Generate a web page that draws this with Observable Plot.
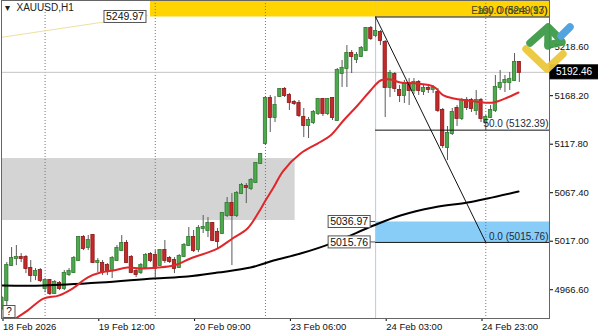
<!DOCTYPE html>
<html><head><meta charset="utf-8">
<script src="https://cdn.jsdelivr.net/npm/d3@7"></script>
<script src="https://cdn.jsdelivr.net/npm/@observablehq/plot@0.6"></script>
<style>
html,body{margin:0;padding:0;background:#fff;overflow:hidden}
#chart{position:relative;width:598px;height:336px}
#logo{position:absolute;left:0;top:0;pointer-events:none}
</style></head><body><div id="chart"></div>
<script>
// ---- data (XAUUSD, H1 candles, bar index 0..108) ----
const open = [4947.0,4955.3,4991.7,4999.0,5000.0,5000.0,4988.6,4981.3,4986.5,4967.8,4976.1,4962.6,4973.0,4967.8,4982.4,4984.4,4996.9,5020.8,5010.4,5022.9,
4994.8,4993.8,4991.7,4986.5,4996.9,5007.3,5014.6,5000.0,4985.5,4984.4,4989.6,5003.1,5002.1,4991.7,5007.3,4999.0,4996.9,4989.6,5001.1,5012.5,
5020.8,5008.3,5030.2,5028.1,5035.4,5026.0,5025.0,5043.7,5056.1,5043.7,5066.5,5073.8,5071.7,5078.0,5097.7,5118.5,5165.3,5145.5,5167.3,5174.6,
5168.4,5161.1,5160.1,5145.5,5137.2,5140.3,5149.7,5164.2,5149.7,5165.3,5142.4,5191.2,5196.4,5212.0,5205.8,5208.9,5215.1,5238.0,5230.7,5233.8,
5223.5,5176.7,5190.2,5173.6,5168.4,5180.8,5173.6,5181.9,5172.5,5175.6,5174.6,5171.5,5152.8,5114.3,5128.9,5154.9,5144.5,5163.2,5163.2,5152.8,
5163.2,5140.3,5145.5,5152.8,5176.7,5181.9,5181.9,5184.0,5202.7];
const high = [4959.5,4994.8,5010.4,5012.5,5004.2,5002.1,4996.9,4988.6,4988.6,4978.2,4977.2,4976.1,4975.1,4986.5,4988.6,5001.1,5021.9,5022.9,5022.9,5023.9,
4999.0,4996.9,4993.8,5001.1,5012.5,5022.9,5017.7,5002.1,4988.6,4993.8,5004.2,5005.2,5007.3,5008.3,5017.7,5001.1,5000.0,5003.1,5014.6,5031.2,
5028.1,5033.3,5043.7,5041.6,5036.4,5030.2,5046.8,5062.4,5066.5,5068.6,5076.9,5076.9,5082.1,5098.7,5108.1,5167.3,5168.4,5167.3,5175.6,5176.7,
5170.5,5163.2,5163.2,5154.9,5145.5,5152.8,5165.3,5165.3,5165.3,5166.3,5196.4,5204.8,5220.3,5215.1,5213.1,5219.3,5239.0,5240.1,5249.97,5235.9,
5225.5,5194.4,5192.3,5178.8,5184.0,5186.0,5186.0,5184.0,5178.8,5178.8,5178.8,5175.6,5154.9,5136.2,5154.9,5158.0,5165.3,5166.3,5165.3,5173.6,
5165.3,5147.6,5158.0,5189.2,5194.4,5189.2,5192.3,5212.0,5203.7];
const low = [4944.9,4944.9,4990.7,4991.7,4994.8,4983.4,4974.0,4976.1,4974.0,4963.6,4960.5,4961.6,4965.7,4965.7,4980.3,4983.4,4995.9,5007.3,5007.3,4993.8,
4984.4,4981.3,4981.3,4978.2,4995.9,5006.3,4993.8,4983.4,4979.2,4982.4,4988.6,4994.8,4979.2,4990.7,4993.8,4993.8,4983.4,4988.6,5000.0,5011.5,
5005.2,5005.2,5025.0,5020.8,5016.7,5009.4,5023.9,5041.6,4991.7,5041.6,5065.5,5056.1,5069.7,5076.9,5096.7,5116.4,5129.9,5140.3,5166.3,5166.3,
5152.8,5158.0,5145.5,5124.7,5123.7,5138.2,5147.6,5146.6,5147.6,5142.4,5141.4,5176.7,5176.7,5191.2,5201.6,5207.9,5214.1,5225.5,5228.6,5220.3,
5145.5,5166.3,5171.5,5161.1,5160.1,5158.0,5169.4,5168.4,5168.4,5170.5,5170.5,5150.7,5113.3,5100.8,5126.8,5136.2,5142.4,5152.8,5150.7,5147.6,
5140.3,5132.4,5144.5,5150.7,5173.6,5171.5,5173.6,5182.9,5181.9];
const close = [4957.4,4991.7,4999.0,5000.0,4999.0,4988.6,4981.3,4985.5,4976.1,4976.1,4962.6,4974.0,4967.8,4983.4,4985.5,4999.0,5020.8,5009.4,5017.7,4994.8,
4995.9,4984.4,4985.5,4999.0,5009.4,5014.6,4994.8,4984.4,4982.4,4991.7,5002.1,4996.9,4988.6,5007.3,4996.9,4995.9,4988.6,5001.1,5012.5,5020.8,
5007.3,5030.2,5031.2,5035.4,5017.7,5016.7,5045.8,5056.1,5043.7,5066.5,5074.9,5072.8,5080.0,5097.7,5107.1,5165.3,5145.5,5158.0,5174.6,5168.4,
5161.1,5160.1,5147.6,5137.2,5142.4,5150.7,5164.2,5149.7,5164.2,5145.5,5194.4,5196.4,5212.0,5208.9,5210.0,5217.2,5238.0,5227.6,5234.9,5225.5,
5176.7,5191.2,5175.6,5168.4,5180.8,5173.6,5181.9,5173.6,5175.6,5174.6,5175.6,5152.8,5116.4,5128.9,5150.7,5144.5,5163.2,5155.9,5154.9,5163.2,
5144.5,5145.5,5152.8,5176.7,5180.8,5184.0,5185.0,5202.7,5192.46];

// moving averages (bar position, value)
const maRedBar = [2.82,5.32,8.66,11.8,14.72,17.85,20.56,23.28,26.2,28.91,32.46,35.8,39.35,44.99,48.12,51.25,53.55,55.01,56.68,58.77,62.32,65.87,68.58,71.29,74.22,76.93,79.02,81.11,83.19,86.74,90.08,92.17,94.26,97.18,100.52,102.61,105.53,107.83];
const maRedVal = [4936.6,4944.9,4957.4,4960.5,4967.8,4979.2,4984.4,4986.5,4989.6,4988.6,4989.6,4991.7,4999.0,5009.4,5019.8,5030.2,5046.8,5059.3,5072.8,5090.4,5108.1,5118.5,5126.8,5142.4,5158.0,5173.6,5184.0,5185.0,5181.9,5180.8,5177.7,5168.4,5165.3,5163.2,5161.1,5161.1,5166.3,5171.5];
const maBlackBar = [0.1,8.66,20.56,31.63,38.73,44.99,51.88,56.68,62.32,69.21,77.56,83.19,90.08,97.18,101.36,107.83];
const maBlackVal = [4970.9,4970.9,4974.0,4978.2,4980.3,4984.4,4989.6,4996.9,5004.2,5015.6,5033.3,5043.7,5052.0,5057.2,5061.4,5068.6];

// axis ticks
const xTickBars = [0,20,40,60,80,100];
const xTickLabels = ["18 Feb 2026","19 Feb 12:00","20 Feb 09:00","23 Feb 06:00","24 Feb 03:00","24 Feb 23:00"];
const gridBars = [9,32,55,101];
const yTicks = [4966.60,5017.00,5067.40,5117.80,5168.20,5218.60];

// drawings
const lastPrice = 5192.46;
const fibStartBar = 78, fibEndBar = 101;
const fib100 = 5249.97, fib50 = 5132.39, fib0 = 5015.76;
const blueZoneTop = 5036.97;
const grayZoneEndBar = 61.2, grayZoneLow = 5038.5, grayZoneHigh = 5102.9;
const yellowStartBar = 31;
const trendBars = [-0.31, 30.38], trendVals = [5228.7, 5251.5];

const xDomain = [-0.104, 114.3];
const yDomain = [4936.7, 5267.1];

const candles = open.map((o,i)=>({i, o, h: high[i], l: low[i], c: close[i]}));
const maRed = maRedBar.map((b,i)=>({b, v: maRedVal[i]}));
const maBlack = maBlackBar.map((b,i)=>({b, v: maBlackVal[i]}));
const trend = trendBars.map((b,i)=>({b, v: trendVals[i]}));
const labelByBar = new Map(xTickBars.map((b,i)=>[b, xTickLabels[i]]));

const font = "'Liberation Sans', Arial, sans-serif";
const up = d => d.c >= d.o;

const chart = Plot.plot({
  width: 598, height: 336,
  marginLeft: 1, marginRight: 49, marginTop: 0, marginBottom: 18,
  x: {domain: xDomain, axis: null},
  y: {domain: yDomain, axis: null},
  style: {fontFamily: font, fontSize: "9.5px", background: "#fff", color: "#000", overflow: "visible"},
  marks: [
    Plot.rect([0], {x1: xDomain[0], x2: grayZoneEndBar, y1: grayZoneLow, y2: grayZoneHigh, fill: "#d4d4d4", clip: true}),
    Plot.rect([0], {x1: yellowStartBar, x2: xDomain[1], y1: fib100, y2: yDomain[1], fill: "#ffd400", clip: true}),
    Plot.rect([0], {x1: fibStartBar, x2: xDomain[1], y1: fib0, y2: blueZoneTop, fill: "#87cdf7", clip: true}),
    Plot.ruleX(gridBars, {stroke: "#777", strokeDasharray: "1,2", strokeWidth: 1}),
    Plot.ruleX([fibStartBar], {stroke: "#a8d0ea", strokeWidth: 1}),
    Plot.ruleY([lastPrice], {stroke: "#c4c4c4", strokeWidth: 1}),
    Plot.line(trend, {x: "b", y: "v", stroke: "#efe0a0", strokeWidth: 1, clip: true}),
    // candles
    Plot.ruleX(candles, {x: "i", y1: "l", y2: "h", stroke: "#5a5a5a", strokeWidth: 1, clip: true}),
    Plot.rect(candles, {x1: d => d.i - 0.34, x2: d => d.i + 0.34, y1: "o", y2: "c",
      fill: d => up(d) ? "#4ea84e" : "#c42a2a", stroke: d => up(d) ? "#2f7a2f" : "#8a1717",
      strokeWidth: 0.8, insetTop: -0.5, insetBottom: -0.5, clip: true}),
    // moving averages
    Plot.line(maBlack, {x: "b", y: "v", stroke: "#000", strokeWidth: 2, curve: "catmull-rom", clip: true}),
    Plot.line(maRed, {x: "b", y: "v", stroke: "#e0262a", strokeWidth: 2, curve: "catmull-rom", clip: true}),
    // fibonacci drawing
    Plot.ruleY([fib100, fib50, fib0], {x1: fibStartBar, x2: xDomain[1], stroke: "#111", strokeWidth: 1}),
    Plot.link([0], {x1: fibStartBar, y1: fib100, x2: fibEndBar, y2: fib0, stroke: "#111", strokeWidth: 1}),
    Plot.text([0], {x: xDomain[1], y: fib100, text: () => "100.0 (5249.97)", textAnchor: "end", dx: -2, dy: -6, fill: "#3a3a3a", fontSize: 10}),
    Plot.text([0], {x: xDomain[1], y: fib100, text: () => "Easy Orders (13)", textAnchor: "end", dx: -2, dy: -6, fill: "#4a4a20", fontSize: 10}),
    Plot.text([0], {x: xDomain[1], y: fib50, text: () => "50.0 (5132.39)", textAnchor: "end", dx: -1, dy: -6, fill: "#1e2a3a", fontSize: 10}),
    Plot.text([0], {x: xDomain[1], y: fib0, text: () => "0.0 (5015.76)", textAnchor: "end", dx: -1, dy: -6, fill: "#1e2a3a", fontSize: 10}),
    // symbol title
    Plot.text([0], {frameAnchor: "top-left", text: () => "\u25BE", dx: 3, dy: 3, fontSize: 10, fill: "#222"}),
    Plot.text([0], {frameAnchor: "top-left", text: () => "XAUUSD,H1", dx: 15, dy: 3, fontSize: 10, fill: "#222"}),
    // axes
    Plot.axisX(xTickBars, {anchor: "bottom", tickSize: 3, tickPadding: 2, textAnchor: "start", dx: 1,
      tickFormat: d => labelByBar.get(d), fill: "#111", fontSize: 9.5}),
    Plot.axisY(yTicks, {anchor: "right", tickSize: 3, tickPadding: 2, tickFormat: d => d.toFixed(2), fill: "#111", fontSize: 9.5}),
    Plot.frame({stroke: "#666", strokeWidth: 1})
  ]
});

document.getElementById("chart").appendChild(chart);

// boxed price labels placed through the plot's own scales
const xs = chart.scale("x"), ys = chart.scale("y");
const svg = d3.select(chart);
function boxLabel(xRight, yCenter, label, opts = {}) {
  const w = opts.w || 42, h = opts.h || 12;
  const g = svg.append("g");
  g.append("rect").attr("x", xRight - w).attr("y", yCenter - h/2).attr("width", w).attr("height", h)
    .attr("fill", opts.fill || "#fff").attr("stroke", opts.stroke || "#555").attr("stroke-width", 1);
  g.append("text").attr("x", xRight - w/2).attr("y", yCenter).attr("dy", "0.35em")
    .attr("text-anchor", "middle").attr("font-family", font).attr("font-size", opts.fs || 10.5)
    .attr("fill", opts.color || "#111").text(label);
  return g;
}
const xFib = xs.apply(fibStartBar);
boxLabel(xs.apply(yellowStartBar) - 4, ys.apply(fib100), fib100.toFixed(2));
boxLabel(xFib - 5, ys.apply(blueZoneTop), blueZoneTop.toFixed(2));
boxLabel(xFib - 5, ys.apply(fib0), fib0.toFixed(2));
[blueZoneTop, fib0].forEach(v => svg.append("line").attr("x1", xFib - 5).attr("x2", xFib)
  .attr("y1", ys.apply(v)).attr("y2", ys.apply(v)).attr("stroke", "#555"));
// current price tag on the right axis
const xr = xs.apply(xDomain[1]);
boxLabel(xr + 49, ys.apply(lastPrice), lastPrice.toFixed(2), {w: 48, h: 14, fill: "#000", stroke: "#000", color: "#fff", fs: 10});
// help box bottom-left
boxLabel(xs.apply(xDomain[0]) + 14, ys.apply(yDomain[0]) - 6.5, "?", {w: 12, h: 12, fs: 10});
</script>
<svg id="logo" width="598" height="336" viewBox="0 0 598 336">
  <g fill="none" stroke-linecap="round" stroke-linejoin="round" stroke-width="7.5" opacity="0.95">
    <polyline points="526,49 547,69 563,54" stroke="#ecc83c"/>
    <polyline points="530,43 548,27 560,39" stroke="#3e9a48"/>
    <line x1="548" y1="30" x2="548" y2="46" stroke="#3e9a48"/>
    <line x1="548" y1="45" x2="562" y2="42" stroke="#3e9a48"/>
    <line x1="561" y1="36" x2="570" y2="27" stroke="#4a9fe0"/>
  </g>
</svg>
</body></html>
